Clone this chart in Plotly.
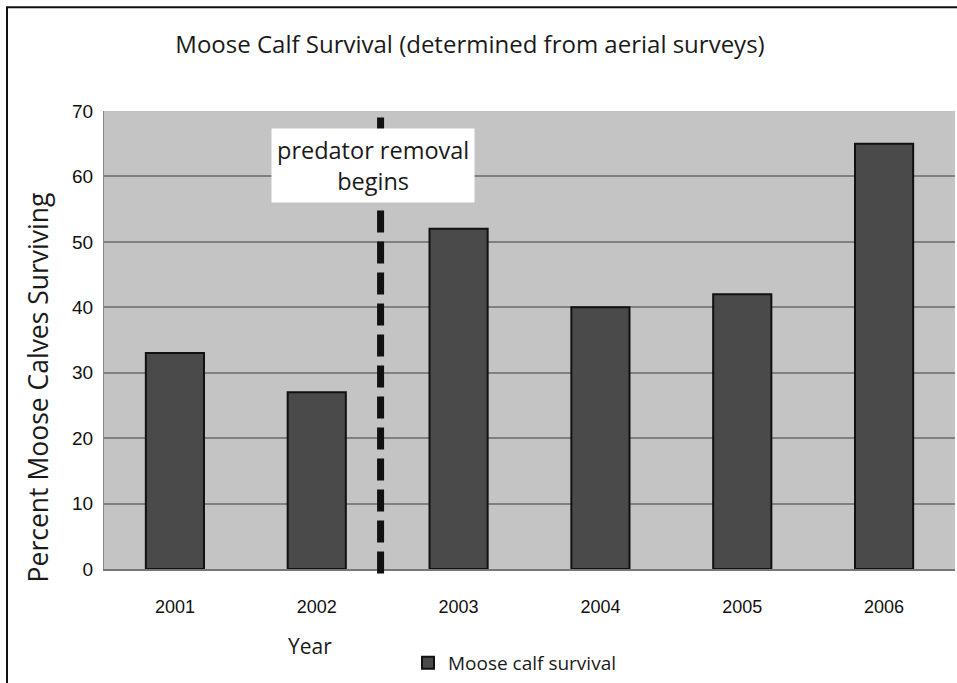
import plotly.graph_objects as go

years = ["2001", "2002", "2003", "2004", "2005", "2006"]
survival = [33, 27, 52, 40, 42, 65]
y_ticks = [0, 10, 20, 30, 40, 50, 60, 70]
removal_pos = 1.45  # category index where predator removal begins

W, H = 957, 683
L, R, T, B = 104, 2, 111, 113
pw, ph = W - L - R, H - T - B

def px_x(x):
    return (x - L) / pw

def px_y(y):
    return (H - B - y) / ph

fig = go.Figure()
fig.add_trace(go.Bar(
    x=years, y=survival, name="Moose calf survival",
    marker=dict(color="#4a4a4a", line=dict(color="#111111", width=2)),
    showlegend=True,
))

fig.update_layout(
    width=W, height=H,
    margin=dict(l=L, r=R, t=T, b=B),
    paper_bgcolor="white",
    plot_bgcolor="#c4c4c4",
    bargap=0.59,
    font=dict(family="Open Sans", color="#1a1a1a"),
    title=dict(text="Moose Calf Survival (determined from aerial surveys)",
               x=px_x(470), xanchor="center", xref="paper",
               y=1 - 45 / H, yanchor="middle",
               font=dict(family="Open Sans", size=24, color="#1a1a1a")),
    xaxis=dict(
        type="category",
        tickfont=dict(family="Liberation Sans", size=18, color="#111111"),
        ticks="outside", ticklen=0, ticklabelstandoff=20,
        showline=True, linecolor="#777777", linewidth=2,
        showgrid=False,
    ),
    yaxis=dict(
        range=[0, 70], tickvals=y_ticks,
        tickfont=dict(family="Liberation Sans", size=19, color="#111111"),
        ticklabelstandoff=6,
        showgrid=True, gridcolor="#808080", gridwidth=1.5,
        showline=True, linecolor="#888888", linewidth=1,
        zeroline=False,
    ),
    legend=dict(
        orientation="h", x=px_x(408), xanchor="left", y=px_y(663), yanchor="middle",
        bgcolor="white", font=dict(family="Open Sans", size=19, color="#1a1a1a"),
        itemwidth=30,
    ),
)

# axis titles
fig.add_annotation(x=px_x(310), y=px_y(647), xref="paper", yref="paper",
                   text="Year", showarrow=False, xanchor="center", yanchor="middle",
                   font=dict(family="Open Sans", size=21, color="#1a1a1a"))
fig.add_annotation(x=px_x(38), y=px_y(388), xref="paper", yref="paper",
                   text="Percent Moose Calves Surviving", showarrow=False, textangle=-90,
                   xanchor="center", yanchor="middle",
                   font=dict(family="Open Sans", size=26.5, color="#1a1a1a"))

# dashed vertical marker line for predator removal
fig.add_shape(type="line", xref="x", yref="paper",
              x0=removal_pos, x1=removal_pos, y0=-0.01, y1=1.0,
              line=dict(color="#111111", width=7, dash="22px,9px"))

fig.add_annotation(
    x=removal_pos, xref="x", y=px_y(166), yref="paper", xshift=-8,
    text="predator removal<br>begins", showarrow=False,
    font=dict(family="Open Sans", size=23.5, color="#1a1a1a"),
    bgcolor="white", borderpad=5, xanchor="center", yanchor="middle",
)

# outer frame
fig.add_shape(type="rect", xref="paper", yref="paper",
              x0=px_x(7), x1=px_x(W + 20), y0=px_y(H + 20), y1=px_y(7),
              line=dict(color="#111111", width=2), layer="below")

fig.write_html("out.html", post_script="document.body.style.margin='0';",
               config={"displayModeBar": False})
